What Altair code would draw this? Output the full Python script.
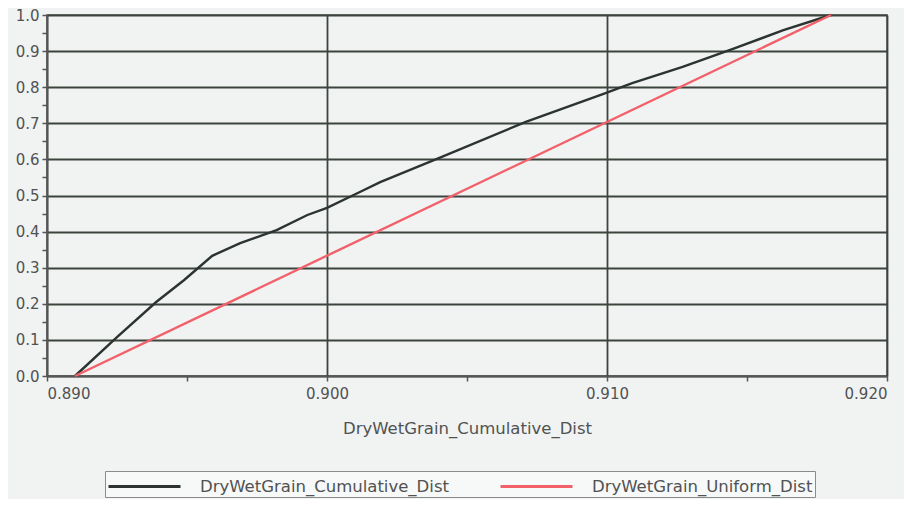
import altair as alt
import pandas as pd

# Cumulative distribution
cum_x = [0.8910, 0.8925, 0.8939, 0.8949, 0.8959, 0.8969, 0.8982, 0.8993, 0.9000,
         0.9011, 0.9019, 0.9041, 0.9071, 0.9099, 0.9109, 0.9127, 0.9145, 0.9163, 0.9180]
cum_y = [0.000, 0.108, 0.205, 0.266, 0.333, 0.368, 0.404, 0.446, 0.466,
         0.507, 0.537, 0.607, 0.704, 0.782, 0.811, 0.856, 0.906, 0.958, 1.000]

# Uniform distribution
uni_x = [0.8910, 0.9180]
uni_y = [0.000, 1.000]

series_names = ["DryWetGrain_Cumulative_Dist", "DryWetGrain_Uniform_Dist"]
series_colors = ["#2b3430", "#f2606a"]

x_ticks = [0.890, 0.895, 0.900, 0.905, 0.910, 0.915, 0.920]
y_ticks = [round(i * 0.05, 2) for i in range(21)]

rows = []
for i, (x, y) in enumerate(zip(cum_x, cum_y)):
    rows.append({"x": x, "y": y, "series": series_names[0], "order": i})
for i, (x, y) in enumerate(zip(uni_x, uni_y)):
    rows.append({"x": x, "y": y, "series": series_names[1], "order": i})
df = pd.DataFrame(rows)

bg = "#f1f3f2"
grid_col = "#3c443e"
text_col = "#505252"
font = "DejaVu Sans"

chart = alt.Chart(df).mark_line(strokeWidth=2.4).encode(
    x=alt.X("x:Q",
            scale=alt.Scale(domain=[0.890, 0.920], nice=False, zero=False),
            axis=alt.Axis(
                title="DryWetGrain_Cumulative_Dist",
                values=x_ticks,
                format=".3f",
                labelExpr="round(datum.value*1000) % 10 == 0 ? format(datum.value, '.3f') : ''",
                gridOpacity=alt.condition("round(datum.value*1000) % 10 == 0", alt.value(1), alt.value(0)),
                gridColor=grid_col, gridWidth=1.8,
                domainColor="#555", domainWidth=1.5,
                tickColor="#555", tickSize=5, tickWidth=1.5,
                labelFont=font, labelFontSize=15, labelColor=text_col, labelPadding=5,
                titleFont=font, titleFontSize=16.5, titleColor=text_col,
                titleFontWeight="normal", titlePadding=19,
            )),
    y=alt.Y("y:Q",
            scale=alt.Scale(domain=[0, 1], nice=False),
            axis=alt.Axis(
                title=None,
                values=y_ticks,
                labelExpr="round(datum.value*100) % 10 == 0 ? format(datum.value, '.1f') : ''",
                gridOpacity=alt.condition("round(datum.value*100) % 10 == 0", alt.value(1), alt.value(0)),
                gridColor=grid_col, gridWidth=1.8,
                domainColor="#555", domainWidth=1.5,
                tickColor="#555", tickSize=5, tickWidth=1.5,
                labelFont=font, labelFontSize=15, labelColor=text_col, labelPadding=3,
            )),
    color=alt.Color("series:N",
                    scale=alt.Scale(domain=series_names, range=series_colors),
                    legend=alt.Legend(
                        title=None, orient="none", direction="horizontal",
                        legendX=58, legendY=456,
                        symbolType="M-1,0H5", symbolSize=576, symbolStrokeWidth=3,
                        labelOffset=66, columnPadding=45,
                        labelFont=font, labelFontSize=16.5, labelColor=text_col,
                        strokeColor="#8a8c8c", padding=2, fillColor="#f7f8f8",
                        labelLimit=400,
                    )),
    order="order:Q",
).properties(
    width=840, height=361,
    autosize=alt.AutoSizeParams(type="none"),
    padding={"left": 39, "top": 7, "right": 17, "bottom": 123},
    background=bg,
).configure_view(
    stroke="#555", strokeWidth=1.5, fill=bg,
)

chart.save("out.html", embed_options={"renderer": "svg", "actions": False})
